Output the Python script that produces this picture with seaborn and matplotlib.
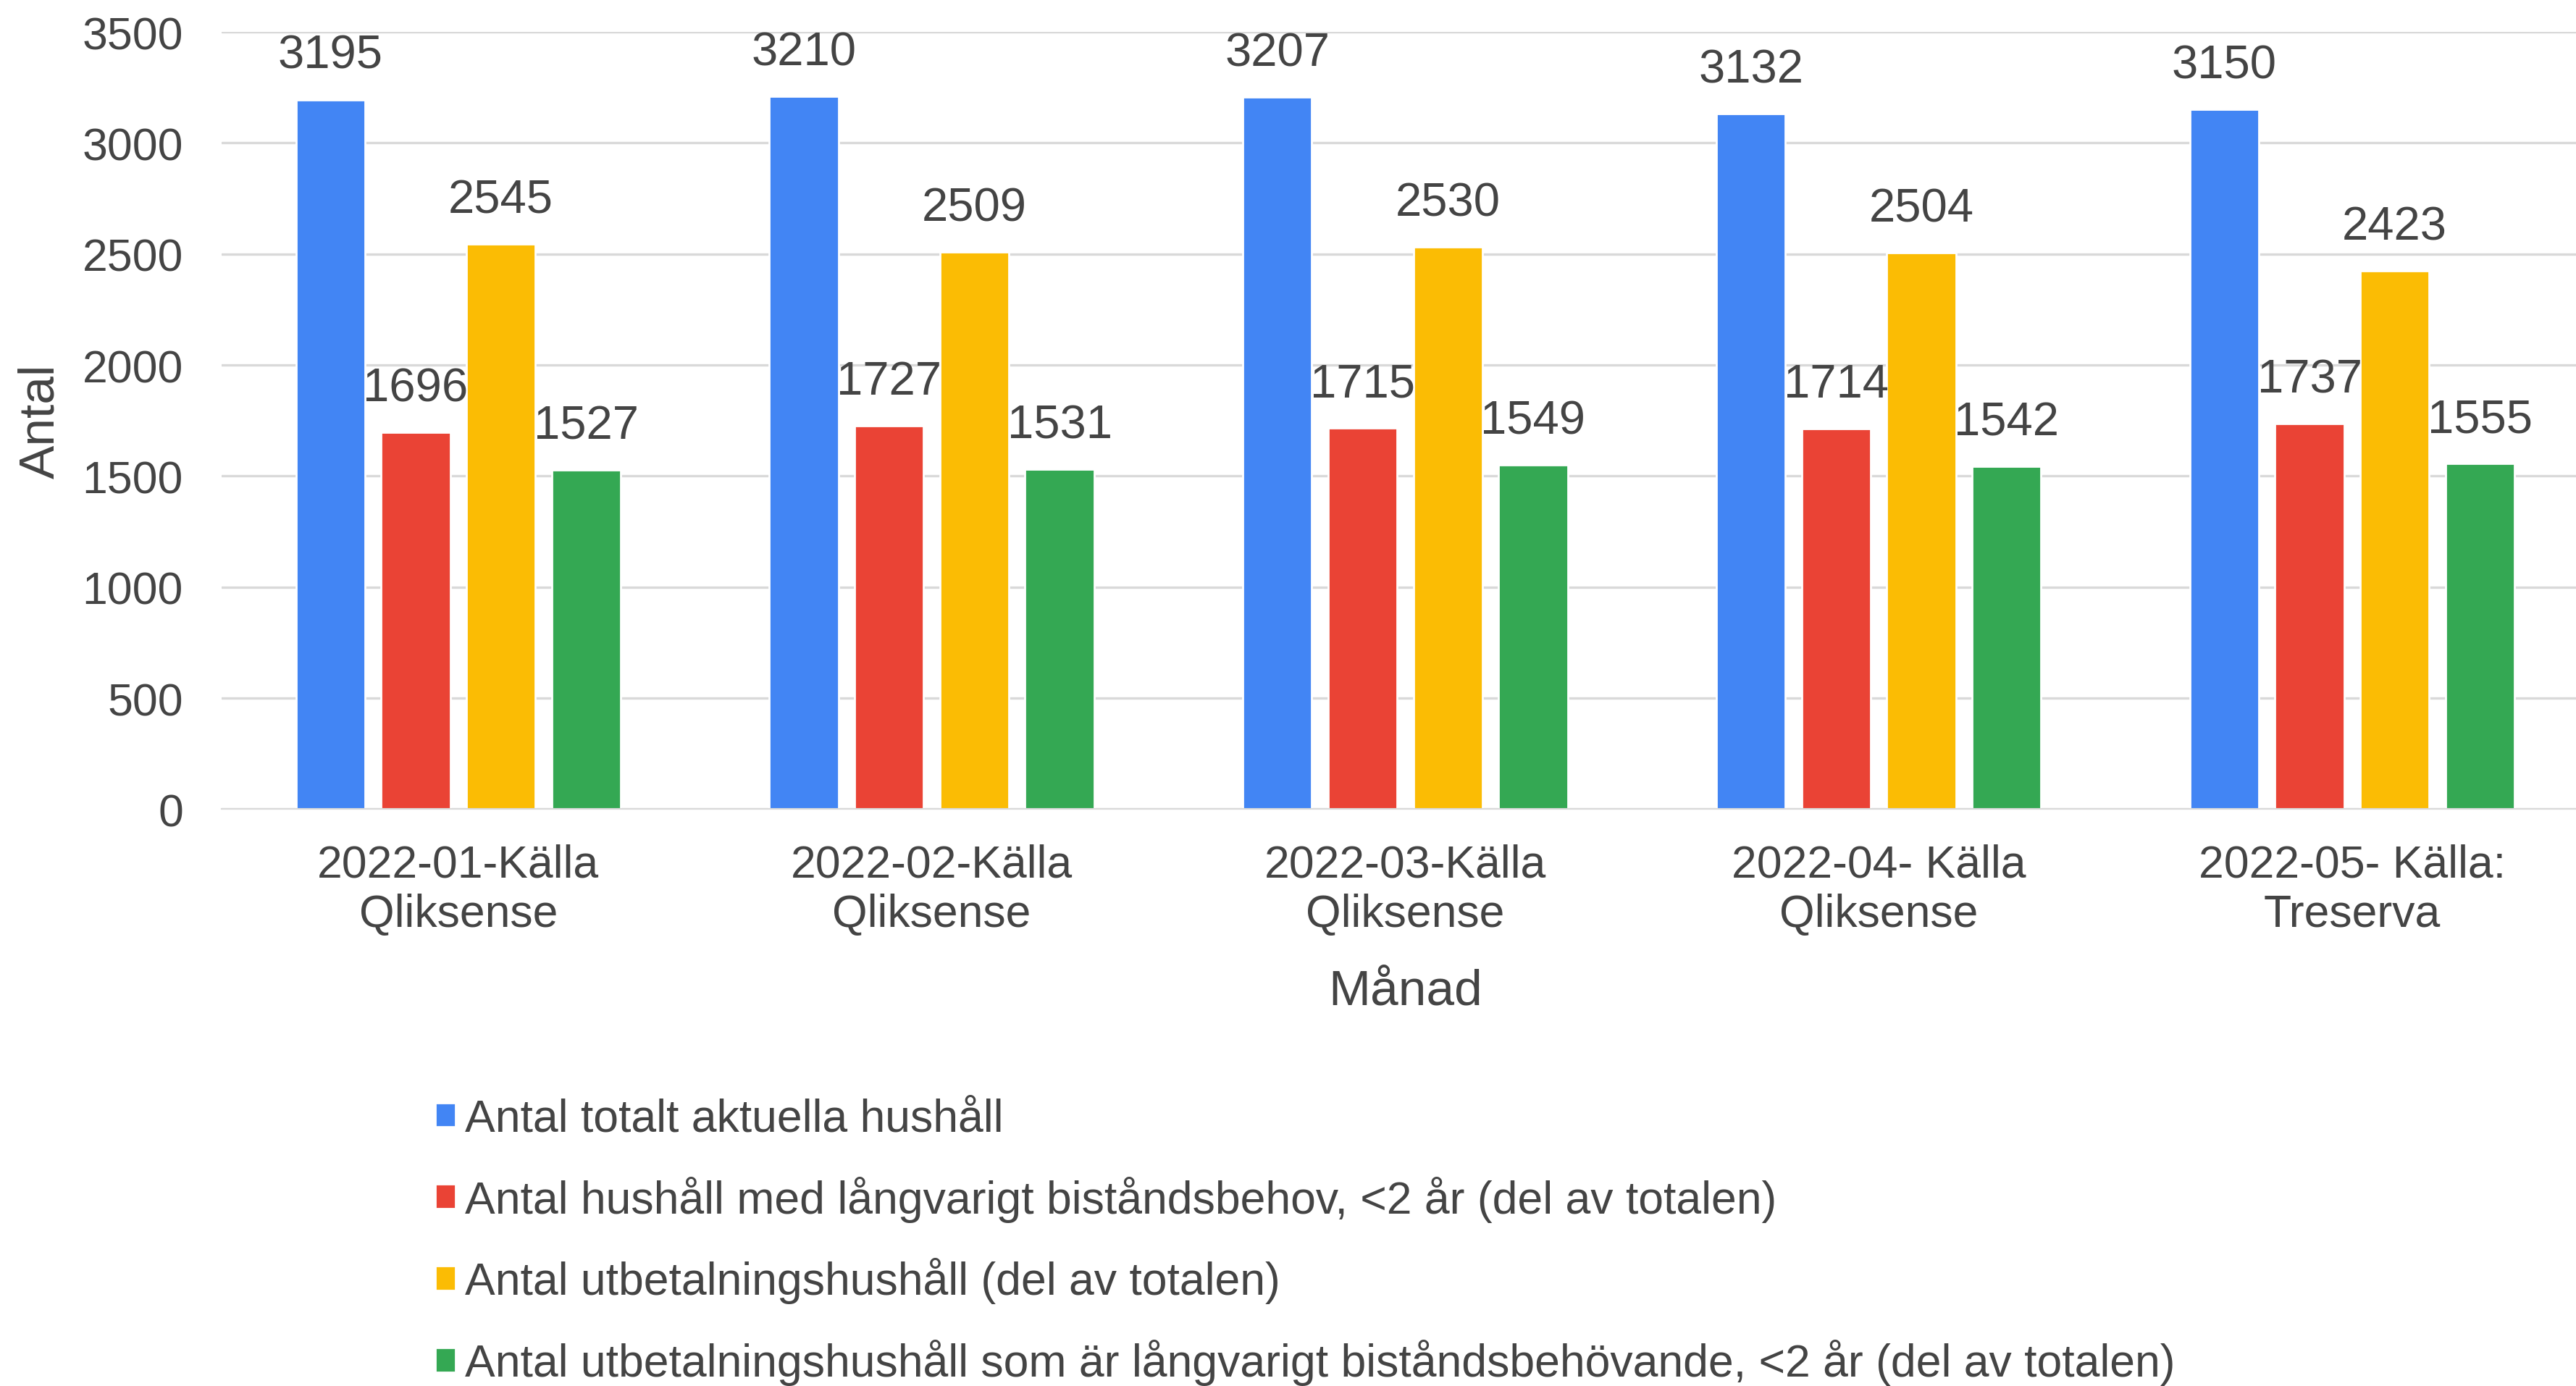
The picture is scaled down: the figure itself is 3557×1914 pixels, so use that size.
import pandas as pd
import matplotlib.pyplot as plt
import seaborn as sns
from matplotlib.patches import Patch

months = ["2022-01-Källa\nQliksense", "2022-02-Källa\nQliksense", "2022-03-Källa\nQliksense",
          "2022-04- Källa\nQliksense", "2022-05- Källa:\nTreserva"]
series = ["Antal totalt aktuella hushåll",
          "Antal hushåll med långvarigt biståndsbehov, <2 år (del av totalen)",
          "Antal utbetalningshushåll (del av totalen)",
          "Antal utbetalningshushåll som är långvarigt biståndsbehövande, <2 år (del av totalen)"]
totalt = [3195, 3210, 3207, 3132, 3150]
langvarigt = [1696, 1727, 1715, 1714, 1737]
utbetalning = [2545, 2509, 2530, 2504, 2423]
utbet_langvarigt = [1527, 1531, 1549, 1542, 1555]
colors = ["#4285F4", "#EA4335", "#FBBC04", "#34A853"]

rows = []
for name, vals in zip(series, [totalt, langvarigt, utbetalning, utbet_langvarigt]):
    for m, v in zip(months, vals):
        rows.append({"Månad": m, "Serie": name, "Antal": v})
df = pd.DataFrame(rows)

sns.set_style("white")
plt.rcParams["font.family"] = ["Liberation Sans", "DejaVu Sans"]
text_color = "#444444"

fig, ax = plt.subplots(figsize=(17.785, 9.575), dpi=200)
fig.subplots_adjust(left=0.086, right=1.005, top=0.9765, bottom=0.416)

sns.barplot(data=df, x="Månad", y="Antal", hue="Serie", palette=colors,
            width=0.72, gap=0.19, saturation=1, legend=False, ax=ax)

for cont in ax.containers:
    ax.bar_label(cont, fmt="%d", padding=11, fontsize=23.5, color=text_color)

ax.set_ylim(0, 3500)
ax.set_yticks(range(0, 3501, 500))
ax.set_xlim(-0.5, 4.5)
ax.yaxis.grid(True, color="#d9d9d9", linewidth=1.2)
ax.set_axisbelow(True)
sns.despine(ax=ax, left=True, top=True, right=True)
ax.spines["bottom"].set_color("#d9d9d9")
ax.tick_params(axis="both", length=0, labelsize=22.5, colors=text_color)
ax.tick_params(axis="y", pad=19)
ax.tick_params(axis="x", pad=17)
for lbl in ax.get_xticklabels():
    lbl.set_linespacing(1.2)
ax.set_ylabel("Antal", fontsize=25, color=text_color, labelpad=9)
ax.set_xlabel("Månad", fontsize=25, color=text_color, labelpad=16)

handles = [Patch(facecolor=c, label=s) for c, s in zip(colors, series)]
fig.legend(handles=handles, loc="upper left", bbox_to_anchor=(0.162, 0.221),
           frameon=False, fontsize=22.5, labelcolor=text_color,
           handlelength=0.45, handleheight=0.45, handletextpad=0.2,
           labelspacing=0.78, borderaxespad=0)

fig.savefig("out.png", dpi=200, facecolor="white")
